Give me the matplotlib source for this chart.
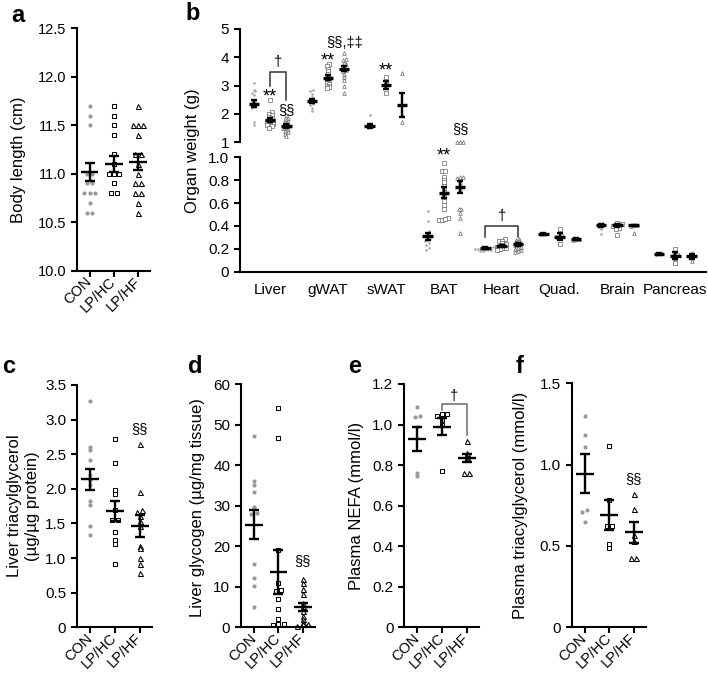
import numpy as np
import matplotlib
matplotlib.use("Agg")
import matplotlib.pyplot as plt

plt.rcParams['font.family'] = ['Liberation Sans', 'DejaVu Sans']

groups = ["CON", "LP/HC", "LP/HF"]

# a: body length (cm)
a_con = [11.7, 11.6, 11.5, 11.0, 11.0, 10.9, 10.9, 10.8, 10.8, 10.8, 10.7, 10.6, 10.6]
a_hc = [11.7, 11.6, 11.5, 11.4, 11.2, 11.1, 11.0, 11.0, 11.0, 10.9, 10.8, 10.8]
a_hf = [11.7, 11.5, 11.5, 11.5, 11.4, 11.2, 11.2, 11.1, 11.0, 10.9, 10.9, 10.8, 10.8, 10.7, 10.6]
a_mean = [11.02, 11.10, 11.12]
a_sem = [0.09, 0.08, 0.08]

# b: organ weights (g)
tissues = ["Liver", "gWAT", "sWAT", "BAT", "Heart", "Quad.", "Brain", "Pancreas"]
b_con = [
    [3.1, 2.85, 2.8, 2.75, 2.65, 2.5, 2.45, 2.4, 2.35, 2.3, 2.25, 2.2, 1.7, 1.6],
    [2.85, 2.8, 2.7, 2.6, 2.55, 2.5, 2.45, 2.4, 2.4, 2.35, 2.3, 2.2, 2.1],
    [1.95, 1.6, 1.55, 1.5],
    [0.53, 0.44, 0.36, 0.34, 0.33, 0.32, 0.31, 0.30, 0.29, 0.28, 0.27, 0.25, 0.23, 0.21, 0.19],
    [0.22, 0.21, 0.21, 0.20, 0.20, 0.20, 0.19, 0.19, 0.19, 0.18, 0.18, 0.22, 0.21],
    [0.34, 0.33, 0.32],
    [0.43, 0.42, 0.41, 0.40, 0.39, 0.37, 0.33],
    [0.16, 0.155, 0.15],
]
b_hc = [
    [2.5, 2.05, 2.0, 1.95, 1.9, 1.85, 1.8, 1.75, 1.75, 1.7, 1.65, 1.6, 1.6, 1.55, 1.5],
    [3.75, 3.7, 3.6, 3.5, 3.4, 3.3, 3.25, 3.2, 3.15, 3.1, 3.05, 3.0, 2.95, 2.9],
    [3.3, 3.05, 2.95, 2.75],
    [0.95, 0.88, 0.88, 0.83, 0.80, 0.78, 0.75, 0.72, 0.70, 0.67, 0.65, 0.62, 0.58, 0.55, 0.47, 0.45, 0.45, 0.46],
    [0.29, 0.27, 0.27, 0.25, 0.24, 0.23, 0.23, 0.22, 0.21, 0.21, 0.20, 0.19],
    [0.37, 0.31, 0.30, 0.24],
    [0.43, 0.42, 0.41, 0.41, 0.40, 0.38, 0.37, 0.32],
    [0.20, 0.15, 0.14, 0.12, 0.08],
]
b_hf = [
    [1.95, 1.85, 1.8, 1.75, 1.7, 1.65, 1.6, 1.55, 1.5, 1.5, 1.45, 1.4, 1.35, 1.3, 1.2],
    [4.15, 3.95, 3.9, 3.8, 3.75, 3.7, 3.6, 3.55, 3.5, 3.4, 3.3, 3.2, 3.0, 2.75],
    [3.45, 1.95, 1.7],
    [1.13, 1.13, 1.13, 0.83, 0.83, 0.82, 0.78, 0.76, 0.74, 0.72, 0.55, 0.55, 0.51, 0.47, 0.34],
    [0.29, 0.28, 0.27, 0.26, 0.25, 0.24, 0.23, 0.22, 0.21, 0.20, 0.19, 0.18, 0.17],
    [0.29, 0.285, 0.28],
    [0.41, 0.405, 0.40, 0.34],
    [0.16, 0.14, 0.13, 0.09],
]
b_mean = [
    [2.35, 2.45, 1.57, 0.31, 0.205, 0.327, 0.405, 0.155],
    [1.78, 3.28, 3.02, 0.69, 0.225, 0.306, 0.405, 0.14],
    [1.57, 3.60, 2.30, 0.74, 0.24, 0.286, 0.405, 0.135],
]
b_sem = [
    [0.12, 0.07, 0.07, 0.03, 0.01, 0.01, 0.01, 0.005],
    [0.07, 0.10, 0.14, 0.05, 0.01, 0.03, 0.01, 0.03],
    [0.06, 0.10, 0.42, 0.05, 0.015, 0.005, 0.005, 0.02],
]
# (text, tissue, group, value)
b_marks = [("**", 0, 1, 2.78), ("§§", 0, 2, 2.12), ("**", 1, 1, 4.04),
           ("§§,‡‡", 1, 2, 4.49), ("**", 2, 1, 3.67), ("**", 3, 1, 1.055),
           ("§§", 3, 2, 1.25)]

# c: liver triacylglycerol
c_con = [3.27, 2.61, 2.56, 2.41, 2.20, 2.13, 2.06, 1.82, 1.77, 1.47, 1.33]
c_hc = [2.72, 2.37, 1.98, 1.92, 1.69, 1.55, 1.55, 1.37, 1.26, 1.20, 0.92]
c_hf = [2.65, 1.95, 1.69, 1.66, 1.61, 1.53, 1.46, 1.18, 1.14, 1.00, 0.91, 0.79]
c_mean = [2.14, 1.68, 1.46]
c_sem = [0.15, 0.14, 0.16]

# d: liver glycogen
d_con = [47.2, 36.2, 35.1, 33.5, 29.6, 28.1, 27.9, 15.6, 12.1, 10.3, 4.9]
d_hc = [54.2, 46.8, 19.2, 10.9, 9.2, 9.0, 7.0, 4.5, 2.1, 0.8, 0.8, 0.6]
d_hf = [12.0, 10.9, 9.4, 8.2, 6.0, 5.2, 4.0, 2.9, 2.1, 1.4, 0.8, 0.8, 0.4]
d_mean = [25.3, 13.6, 5.1]
d_sem = [3.6, 5.4, 1.0]

# e: plasma NEFA
e_con = [1.085, 1.04, 1.035, 0.99, 0.76, 0.745]
e_hc = [1.05, 1.05, 1.04, 1.02, 1.0, 0.77]
e_hf = [0.92, 0.858, 0.842, 0.829, 0.76, 0.76]
e_mean = [0.93, 0.99, 0.837]
e_sem = [0.06, 0.04, 0.02]

# f: plasma triacylglycerol
f_con = [1.30, 1.18, 1.11, 0.72, 0.71, 0.645]
f_hc = [1.115, 0.78, 0.625, 0.62, 0.51, 0.49]
f_hf = [0.82, 0.725, 0.565, 0.53, 0.425, 0.425]
f_mean = [0.943, 0.69, 0.584]
f_sem = [0.12, 0.09, 0.065]

W, H = 708, 677
fig = plt.figure(figsize=(W / 100, H / 100), dpi=100)

MK = [dict(marker='o', ms=3.0, mfc='#999999', mec='none'),
      dict(marker='s', ms=3.3, mfc='white', mec='k', mew=0.75),
      dict(marker='^', ms=3.6, mfc='white', mec='k', mew=0.75)]
MKB = [dict(marker='o', ms=1.9, mfc='#aaaaaa', mec='none'),
       dict(marker='s', ms=2.4, mfc='white', mec='#666666', mew=0.5),
       dict(marker='^', ms=2.6, mfc='white', mec='#666666', mew=0.5)]


def px_axes(x0, y0, x1, y1):
    return fig.add_axes([x0 / W, 1 - y1 / H, (x1 - x0) / W, (y1 - y0) / H])


def swarm(vals, tol, step):
    vals = np.asarray(vals, float)
    xs = np.zeros(len(vals))
    grp = []
    for i in np.argsort(vals):
        if grp and vals[i] - vals[grp[-1][0]] < tol:
            grp[-1].append(i)
        else:
            grp.append([i])
    for g in grp:
        for j, idx in enumerate(g):
            xs[idx] = (j - (len(g) - 1) / 2) * step
    return xs


def style(ax):
    ax.spines['top'].set_visible(False)
    ax.spines['right'].set_visible(False)
    ax.spines['left'].set_linewidth(1.5)
    ax.spines['bottom'].set_linewidth(1.5)
    ax.tick_params(width=1.5, length=4.3, labelsize=11)
    ax.patch.set_alpha(0)


def dot_panel(ax, data, means, sems, tol, ylim, yticks, ylabels):
    style(ax)
    for i, (vals, m, s) in enumerate(zip(data, means, sems)):
        ax.plot(i + swarm(vals, tol, 0.22), vals, linestyle='none', clip_on=False, zorder=2, **MK[i])
        ax.hlines(m, i - 0.36, i + 0.36, color='k', lw=1.7, zorder=4)
        ax.errorbar(i, m, yerr=s, fmt='none', ecolor='k', elinewidth=1.7,
                    capsize=3.5, capthick=1.7, zorder=4)
    ax.set_xlim(-0.53, 2.5)
    ax.set_ylim(*ylim)
    ax.set_yticks(yticks)
    ax.set_yticklabels(ylabels)
    ax.set_xticks(range(3))
    ax.set_xticklabels(groups, rotation=45, ha='right', va='center',
                       rotation_mode='anchor', fontsize=10.5)
    ax.tick_params(axis='x', pad=2)


def ylabel(x, y, s, size=12):
    fig.text(x / W, 1 - y / H, s, rotation=90, ha='center', va='center', fontsize=size)


def letter(x, y, s):
    fig.text(x / W, 1 - y / H, s, fontsize=17, fontweight='bold', ha='left', va='baseline')


def mark(ax, x, y, s):
    dy = -3.5 if s.startswith("*") else 0
    size = 13 if s.startswith("*") else 10.5
    ax.annotate(s, (x, y), xytext=(0, dy), textcoords='offset points',
                ha='center', va='center', fontsize=size, annotation_clip=False)


# ---- a
ax = px_axes(77, 28.3, 150, 270.7)
ticks = np.arange(10, 12.51, 0.5)
dot_panel(ax, [a_con, a_hc, a_hf], a_mean, a_sem, 0.05, (10, 12.5), ticks, [f"{t:.1f}" for t in ticks])
ax.tick_params(axis='y', labelsize=10.5)
ylabel(19, 160, "Body length (cm)")
letter(11, 22, "a")

# ---- b (broken axis)
axt = px_axes(240, 29, 706, 142)
axb = px_axes(240, 157.3, 706, 271.7)
for a_ in (axt, axb):
    style(a_)
    a_.set_xlim(-0.52, 7.53)
axt.spines['bottom'].set_visible(False)
axt.set_xticks([])
axt.set_ylim(1, 5)
axt.set_yticks([1, 2, 3, 4, 5])
axb.set_ylim(0, 1)
axb.set_yticks(np.arange(0, 1.01, 0.2))
axb.set_yticklabels(["0", "0.2", "0.4", "0.6", "0.8", "1.0"])
axb.set_xticks(range(len(tissues)))
axb.set_xticklabels(tissues, fontsize=11)
axb.tick_params(axis='x', length=0, pad=8)

b_pts = [b_con, b_hc, b_hf]
for i in range(len(tissues)):
    a_ = axt if i < 3 else axb
    tol = 0.08 if i < 3 else 0.02
    for g in range(3):
        x = i + (g - 1) * 0.28
        vals = b_pts[g][i]
        a_.plot(x + swarm(vals, tol, 0.05), vals, linestyle='none', clip_on=False, zorder=2, **MKB[g])
        m, s = b_mean[g][i], b_sem[g][i]
        a_.hlines(m, x - 0.09, x + 0.09, color='k', lw=2.4, zorder=4)
        a_.errorbar(x, m, yerr=s, fmt='none', ecolor='k', elinewidth=1.7,
                    capsize=2.3, capthick=1.7, zorder=4)
for txt, i, g, v in b_marks:
    mark(axt if i < 3 else axb, i + (g - 1) * 0.28, v, txt)
# brackets
axt.plot([0, 0, 0.28, 0.28], [3.0, 3.49, 3.49, 2.49], color='#333333', lw=1.1)
mark(axt, 0.14, 3.83, "†")
axb.plot([3.72, 3.72, 4.28, 4.28], [0.30, 0.40, 0.40, 0.30], color='#333333', lw=1.1)
mark(axb, 4, 0.49, "†")
ylabel(192, 150.5, "Organ weight (g)")
letter(185, 20, "b")

# ---- c
ax = px_axes(77, 385, 152, 627.3)
ticks = np.arange(0, 3.51, 0.5)
dot_panel(ax, [c_con, c_hc, c_hf], c_mean, c_sem, 0.04, (0, 3.5), ticks,
          ["0"] + [f"{t:.1f}" for t in ticks[1:]])
mark(ax, 2, 2.86, "§§")
ylabel(15, 506, "Liver triacylglycerol")
ylabel(32, 506, "(µg/µg protein)")
letter(2, 373, "c")

# ---- d
ax = px_axes(241, 384.3, 315, 627.3)
ticks = np.arange(0, 61, 10)
dot_panel(ax, [d_con, d_hc, d_hf], d_mean, d_sem, 0.6, (0, 60), ticks, [str(int(t)) for t in ticks])
mark(ax, 2, 16.4, "§§")
ylabel(198, 508, "Liver glycogen (µg/mg tissue)")
letter(188, 373, "d")

# ---- e
ax = px_axes(404.3, 384, 479, 627.3)
ticks = np.arange(0, 1.21, 0.2)
dot_panel(ax, [e_con, e_hc, e_hf], e_mean, e_sem, 0.012, (0, 1.2), ticks,
          ["0"] + [f"{t:.1f}" for t in ticks[1:]])
ax.plot([1, 1, 2, 2], [1.072, 1.10, 1.10, 0.948], color='#777777', lw=1.2, clip_on=False)
mark(ax, 1.5, 1.14, "†")
ylabel(356, 506, "Plasma NEFA (mmol/l)")
letter(348, 373, "e")

# ---- f
ax = px_axes(571.7, 383.3, 646, 627.3)
ticks = np.arange(0, 1.51, 0.5)
dot_panel(ax, [f_con, f_hc, f_hf], f_mean, f_sem, 0.015, (0, 1.5), ticks,
          ["0"] + [f"{t:.1f}" for t in ticks[1:]])
mark(ax, 2, 0.91, "§§")
ylabel(520, 505, "Plasma triacylglycerol (mmol/l)")
letter(516, 373, "f")

fig.savefig("out.png", dpi=100)
